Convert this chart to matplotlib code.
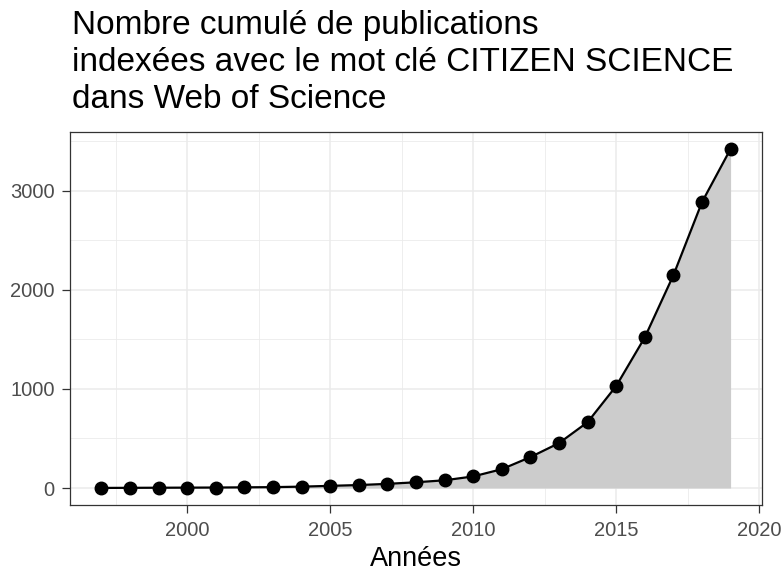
import matplotlib
matplotlib.use("Agg")
import matplotlib.pyplot as plt
from matplotlib.ticker import MultipleLocator

# cumulative number of WoS publications with keyword CITIZEN SCIENCE
years = [1997, 1998, 1999, 2000, 2001, 2002, 2003, 2004, 2005, 2006, 2007, 2008,
         2009, 2010, 2011, 2012, 2013, 2014, 2015, 2016, 2017, 2018, 2019]
counts = [1, 2, 3, 4, 5, 7, 9, 14, 22, 30, 42, 58,
          78, 117, 190, 312, 453, 664, 1029, 1519, 2146, 2883, 3420]

title = "Nombre cumulé de publications\nindexées avec le mot clé CITIZEN SCIENCE\ndans Web of Science"
xlabel = "Années"

plt.rcParams['font.family'] = ['Liberation Sans', 'DejaVu Sans']

fig = plt.figure(figsize=(7.84, 5.73), dpi=100)
ax = fig.add_axes([0.0893, 0.1187, 0.8827, 0.651])

ax.fill_between(years, counts, 0, color="#cccccc", linewidth=0, zorder=2)
ax.plot(years, counts, color="black", lw=1.6, zorder=3)
ax.plot(years, counts, "o", color="black", ms=9, zorder=4)

ax.set_xlim(1995.9, 2020.1)
ax.set_ylim(-171, 3591)
ax.xaxis.set_major_locator(MultipleLocator(5))
ax.xaxis.set_minor_locator(MultipleLocator(2.5))
ax.yaxis.set_major_locator(MultipleLocator(1000))
ax.yaxis.set_minor_locator(MultipleLocator(500))

ax.grid(which="major", color="#ebebeb", lw=1.1, zorder=0)
ax.grid(which="minor", color="#ebebeb", lw=0.6, zorder=0)
ax.set_axisbelow(True)

for s in ax.spines.values():
    s.set_color("#333333")
    s.set_linewidth(0.9)

ax.tick_params(which="major", length=5.5, width=0.9, color="#333333",
               labelsize=14.5, labelcolor="#4d4d4d")
ax.tick_params(axis="x", pad=6.3)
ax.tick_params(axis="y", pad=5.5)
ax.tick_params(which="minor", length=0)

ax.set_xlabel(xlabel, fontsize=19.5, color="black", labelpad=4)
fig.text(0.0915, 0.8115, title, fontsize=24, va="baseline", ha="left",
         linespacing=1.25)

fig.savefig("out.png", dpi=100)
